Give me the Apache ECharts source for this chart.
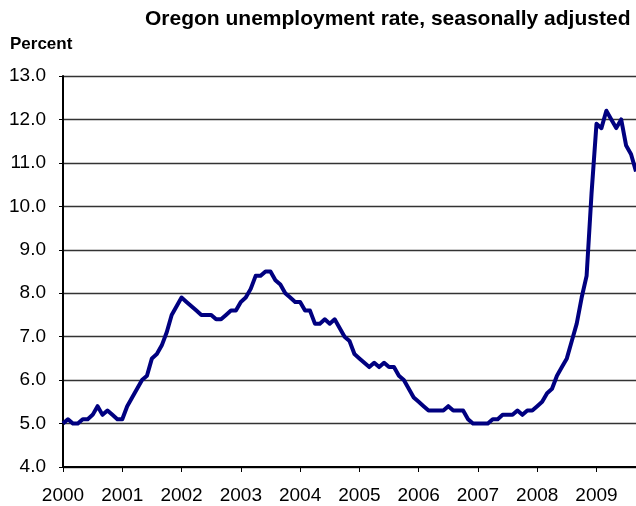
<!DOCTYPE html>
<html>
<head>
<meta charset="utf-8">
<script src="https://cdn.jsdelivr.net/npm/echarts@6/dist/echarts.min.js"></script>
<style>html,body{margin:0;padding:0;background:#fff}#c{width:636px;height:506px}</style>
</head>
<body>
<div id="c"></div>
<script>
// Monthly values, Jan..Dec of each year (2009 through Sep)
const y2000 = [5.0,5.1,5.0,5.0,5.1,5.1,5.2,5.4,5.2,5.3,5.2,5.1];
const y2001 = [5.1,5.4,5.6,5.8,6.0,6.1,6.5,6.6,6.8,7.1,7.5,7.7];
const y2002 = [7.9,7.8,7.7,7.6,7.5,7.5,7.5,7.4,7.4,7.5,7.6,7.6];
const y2003 = [7.8,7.9,8.1,8.4,8.4,8.5,8.5,8.3,8.2,8.0,7.9,7.8];
const y2004 = [7.8,7.6,7.6,7.3,7.3,7.4,7.3,7.4,7.2,7.0,6.9,6.6];
const y2005 = [6.5,6.4,6.3,6.4,6.3,6.4,6.3,6.3,6.1,6.0,5.8,5.6];
const y2006 = [5.5,5.4,5.3,5.3,5.3,5.3,5.4,5.3,5.3,5.3,5.1,5.0];
const y2007 = [5.0,5.0,5.0,5.1,5.1,5.2,5.2,5.2,5.3,5.2,5.3,5.3];
const y2008 = [5.4,5.5,5.7,5.8,6.1,6.3,6.5,6.9,7.3,7.9,8.4,10.3];
const y2009 = [11.9,11.8,12.2,12.0,11.8,12.0,11.4,11.2,10.8];

const years = ['2000','2001','2002','2003','2004','2005','2006','2007','2008','2009'];
const yearData = [y2000,y2001,y2002,y2003,y2004,y2005,y2006,y2007,y2008,y2009];

const categories = [];
const values = [];
yearData.forEach((arr, yi) => {
  arr.forEach((v, mi) => {
    categories.push(years[yi] + '-' + String(mi + 1).padStart(2, '0'));
    values.push(v);
  });
});

const FONT = 'Liberation Sans, Arial, sans-serif';
const chart = echarts.init(document.getElementById('c'), null, {renderer: 'canvas'});
chart.setOption({
  animation: false,
  backgroundColor: '#ffffff',
  title: [
    {
      text: 'Oregon unemployment rate, seasonally adjusted',
      left: 145, top: 9, padding: 0,
      textStyle: {fontFamily: FONT, fontSize: 21, fontWeight: 'bold', color: '#000'}
    },
    {
      text: 'Percent',
      left: 10, top: 36, padding: 0,
      textStyle: {fontFamily: FONT, fontSize: 17, fontWeight: 'bold', color: '#000'}
    }
  ],
  grid: {left: 63, right: 0, top: 76, bottom: 39, containLabel: false},
  xAxis: {
    type: 'category',
    data: categories,
    boundaryGap: false,
    axisLine: {show: true, lineStyle: {color: '#000', width: 2}},
    axisTick: {show: true, length: 5, interval: (i) => i % 12 === 0, lineStyle: {color: '#000', width: 1}},
    axisLabel: {
      interval: (i) => i % 12 === 0,
      formatter: (v) => v.slice(0, 4),
      fontFamily: FONT, fontSize: 19, color: '#000', margin: 19
    },
    splitLine: {show: false}
  },
  yAxis: {
    type: 'value',
    min: 4, max: 13, interval: 1,
    axisLine: {show: true, lineStyle: {color: '#000', width: 2}},
    axisTick: {show: true, length: 4, lineStyle: {color: '#000', width: 1}},
    axisLabel: {
      formatter: (v) => v.toFixed(1),
      fontFamily: FONT, fontSize: 19, color: '#000', margin: 17
    },
    splitLine: {show: true, lineStyle: {color: '#333', width: 1.3}}
  },
  series: [{
    type: 'line',
    data: values,
    symbol: 'none',
    smooth: false,
    lineStyle: {color: '#000080', width: 4, join: 'round'},
    clip: true
  }]
});
</script>
</body>
</html>
